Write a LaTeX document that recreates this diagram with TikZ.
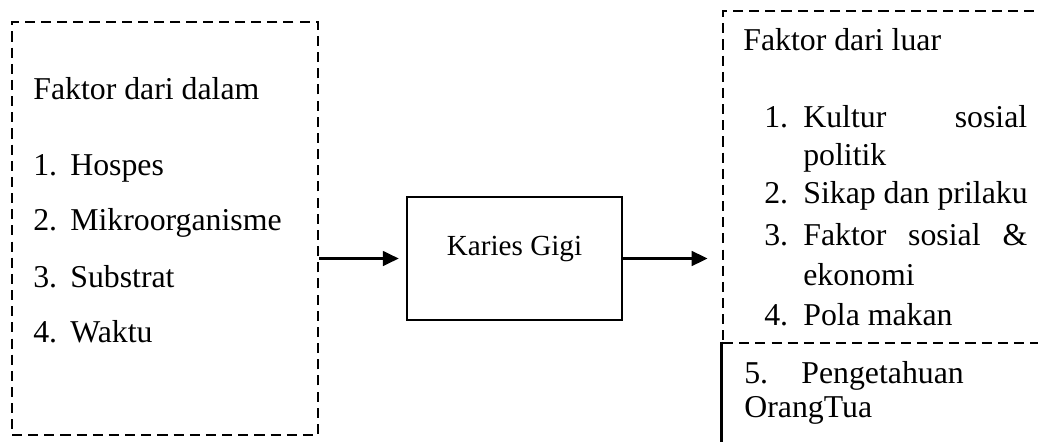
\documentclass[tikz,border=0pt]{standalone}
\usepackage{fontspec}
\setmainfont{Liberation Serif}
\usetikzlibrary{arrows.meta,fit}

\begin{document}
\begin{tikzpicture}[x=0.3774pt,y=-0.3774pt,line width=1pt,
   dashbox/.style={draw,dash pattern=on 3.8pt off 2.3pt,inner sep=0pt},
   txt/.style={anchor=base west,inner sep=0pt,font=\fontsize{12}{14}\selectfont},
   panah/.style={-{Triangle[length=6pt,width=5.5pt]}}]
   \useasboundingbox (0,0) rectangle (1038,441);
   \clip (0,0) rectangle (1038,441);
   % kotak
   \node[dashbox,fit={(12,22) (318,435)}] (dalam) {};
   \node[draw,inner sep=0pt,fit={(407,197) (622,320)},font=\fontsize{11}{13}\selectfont] (karies) {Karies Gigi};
   \node[inner sep=0pt,fit={(723,343) (1060,470)}] (ortu) {};
   \draw[line width=1.2pt] (ortu.north west) -- (ortu.south west);
   \node[dashbox,fit={(723,11) (1060,343)}] (luar) {};
   % teks kiri
   \node[txt] (dalamjudul) at (32,99) {Faktor dari dalam};
   \foreach \i/\t/\y in {1/Hospes/175,2/Mikroorganisme/230,3/Substrat/287,4/Waktu/342} {
      \node[txt] (dno\i) at (32,\y) {\i.};
      \node[txt] (d\i) at (69,\y) {\t};
   }
   % teks kanan
   \node[txt] (luarjudul) at (742,50) {Faktor dari luar};
   \node[txt] (lno1) at (763,127) {1.};
   \node[txt] (l1) at (802,127) {\hbox to 84.5pt{Kultur\hfill sosial}};
   \node[txt] (l1b) at (802,165) {politik};
   \node[txt] (lno2) at (763,203) {2.};
   \node[txt] (l2) at (802,203) {Sikap dan prilaku};
   \node[txt] (lno3) at (763,245) {3.};
   \node[txt] (l3) at (802,245) {\hbox to 84.5pt{Faktor\hfill sosial\hfill \&}};
   \node[txt] (l3b) at (802,285) {ekonomi};
   \node[txt] (lno4) at (763,325) {4.};
   \node[txt] (l4) at (802,325) {Pola makan};
   \node[txt] (lno5) at (743,383) {5.};
   \node[txt] (l5) at (800,383) {Pengetahuan};
   \node[txt] (l5b) at (743,417) {OrangTua};
   % panah
   \draw[panah,shorten >=2.6pt] (dalam.east |- karies.west) -- (karies.west);
   \draw[panah,shorten >=5.3pt] (karies.east) -- (luar.west |- karies.east);
\end{tikzpicture}
\end{document}
